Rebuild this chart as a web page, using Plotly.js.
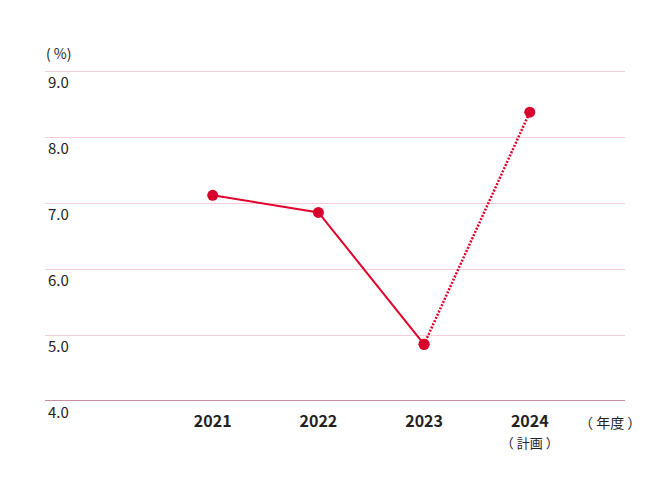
<!DOCTYPE html>
<html>
<head>
<meta charset="utf-8">
<script src="https://cdn.plot.ly/plotly-3.0.1.min.js"></script>
<style>html,body{margin:0;padding:0;background:#fff;}#chart{width:670px;height:502px;}</style>
</head>
<body>
<div id="chart"></div>
<script>
const years = ['2021', '2022', '2023', '2024'];
const yearLabels = ['<b>2021</b>', '<b>2022</b>', '<b>2023</b>', '<b>2024</b><br><span style="font-size:13px">（ 計画 ）</span>'];
const actualYears = ['2021', '2022', '2023'];
const actualValues = [7.12, 6.86, 4.86];
const planYears = ['2023', '2024'];
const planValues = [4.86, 8.38];
const yTicks = [4, 5, 6, 7, 8, 9];
const yTickLabels = ['4.0', '5.0', '6.0', '7.0', '8.0', '9.0'];

const red = '#e0002a';
const font = '"Noto Sans CJK JP", "Noto Sans", sans-serif';

const traces = [
  {x: actualYears, y: actualValues, type: 'scatter', mode: 'lines+markers',
   line: {color: red, width: 2}, marker: {color: '#d8002c', size: 11}, hoverinfo: 'none'},
  {x: planYears, y: planValues, type: 'scatter', mode: 'lines+markers',
   line: {color: red, width: 2.5, dash: '2px,1.5px'}, marker: {color: '#d8002c', size: 11}, hoverinfo: 'none'}
];

const annotations = yTicks.map((v, i) => ({
  xref: 'paper', x: 0, xanchor: 'left', xshift: 1,
  yref: 'y', y: v, yanchor: 'top', yshift: 2,
  text: yTickLabels[i], showarrow: false,
  font: {family: font, size: 15, color: '#222'}
}));
annotations.push({xref: 'paper', x: 0, xanchor: 'left', xshift: -1, yref: 'y', y: 9, yanchor: 'bottom', yshift: 6,
  text: '( %)', showarrow: false, font: {family: font, size: 14, color: '#222'}});
annotations.push({xref: 'paper', x: 0.917, xanchor: 'left', yref: 'y', y: 4, yanchor: 'top', yshift: -9,
  text: '（ 年度 ）', showarrow: false, font: {family: font, size: 14, color: '#222'}});

const layout = {
  width: 670, height: 502,
  margin: {l: 45, r: 45, t: 68, b: 101},
  paper_bgcolor: '#fff', plot_bgcolor: '#fff',
  showlegend: false,
  xaxis: {
    type: 'category', categoryorder: 'array', categoryarray: years,
    range: [-1.587, 3.901],
    tickmode: 'array', tickvals: years, ticktext: yearLabels,
    tickfont: {family: font, size: 16, color: '#222'},
    ticklabelstandoff: 9,
    showgrid: false, zeroline: false, showline: false, ticks: ''
  },
  yaxis: {
    range: [4, 9.05], tickmode: 'array', tickvals: yTicks, showticklabels: false,
    showgrid: true, gridcolor: '#f5cdd8', gridwidth: 1, zeroline: false,
    showline: false, ticks: ''
  },
  shapes: [{type: 'line', xref: 'paper', x0: 0, x1: 1, yref: 'y', y0: 4, y1: 4,
    line: {color: '#8e1c36', width: 1}}],
  annotations: annotations
};

Plotly.newPlot('chart', traces, layout, {displayModeBar: false, staticPlot: true});
</script>
</body>
</html>
